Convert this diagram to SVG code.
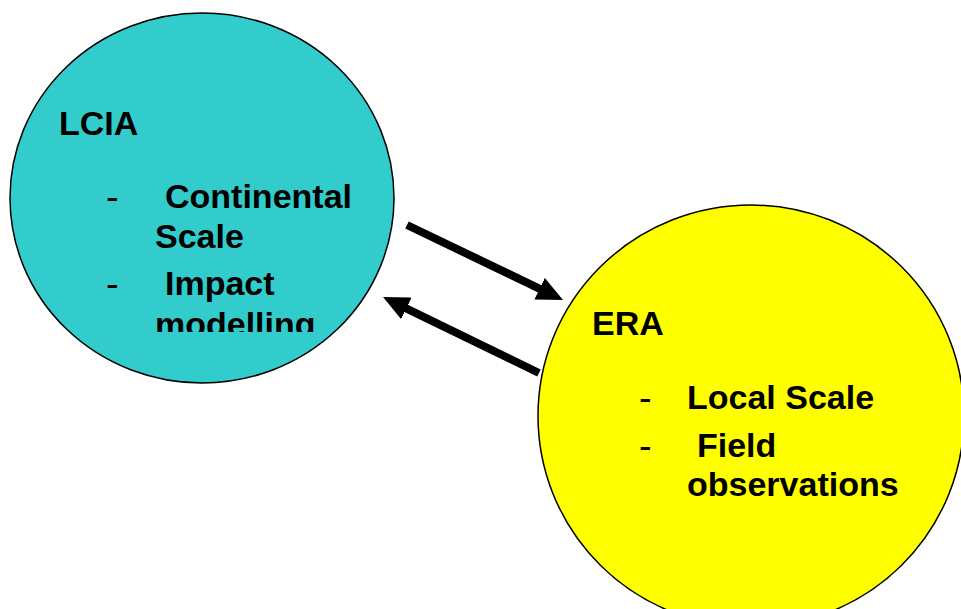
<svg xmlns="http://www.w3.org/2000/svg" width="961" height="609" viewBox="0 0 961 609">
<style>
.t{font-family:"Liberation Sans",Arial,sans-serif;font-weight:bold;font-size:34px;fill:#000}
.d{font-family:"Liberation Sans",Arial,sans-serif;font-weight:normal;font-size:38px;fill:#000}
.c{stroke:#000;stroke-width:8;fill:none}
</style>
<defs>
<marker id="ah" markerUnits="userSpaceOnUse" markerWidth="26" markerHeight="24" refX="6" refY="12" orient="auto" viewBox="0 0 26 24">
<path d="M0,0 L26,12 L0,24 z" fill="#000"/>
</marker>
<clipPath id="clipL"><rect x="0" y="0" width="480" height="332"/></clipPath>
</defs>
<rect width="961" height="609" fill="#fff"/>
<g id="lcia">
<ellipse cx="202" cy="198" rx="192" ry="185" fill="#33CCCC" stroke="#000" stroke-width="1.5"/>
<text class="t" x="59" y="135">LCIA</text>
<text class="d" x="106" y="210">-</text>
<text class="t" x="165" y="208">Continental</text>
<text class="t" x="155" y="248">Scale</text>
<text class="d" x="106" y="297">-</text>
<text class="t" x="165" y="295">Impact</text>
<text class="t" x="155" y="336" clip-path="url(#clipL)">modelling</text>
</g>
<g id="era">
<ellipse cx="751" cy="416" rx="213" ry="211" fill="#FFFF00" stroke="#000" stroke-width="1.5"/>
<text class="t" x="592" y="335">ERA</text>
<text class="d" x="639" y="411">-</text>
<text class="t" x="687" y="409">Local Scale</text>
<text class="d" x="639" y="459">-</text>
<text class="t" x="697" y="457">Field</text>
<text class="t" x="687" y="496">observations</text>
</g>
<g id="connectors">
<line class="c" x1="407" y1="225" x2="545" y2="291.3" marker-end="url(#ah)"/>
<line class="c" x1="539" y1="373" x2="401" y2="305.8" marker-end="url(#ah)"/>
</g>
</svg>
